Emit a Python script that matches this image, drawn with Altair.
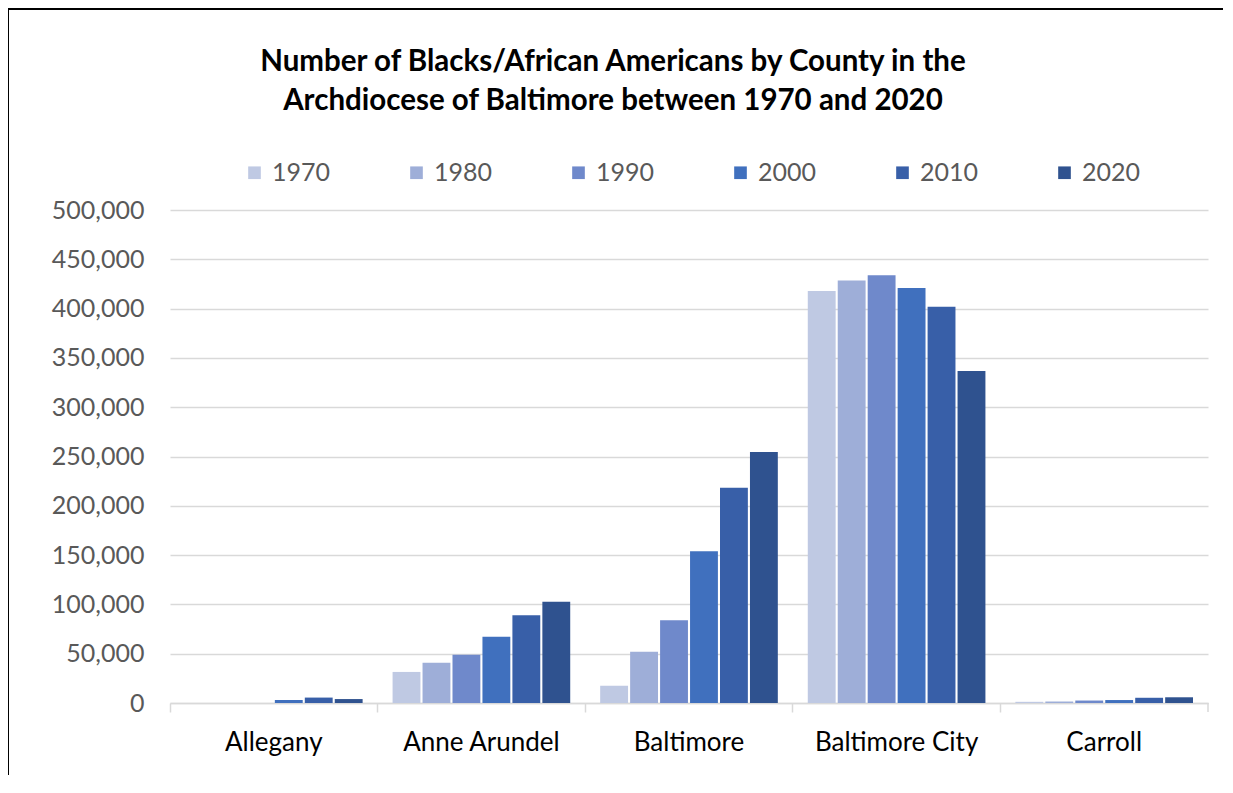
import altair as alt
import pandas as pd

counties = ["Allegany", "Anne Arundel", "Baltimore", "Baltimore City", "Carroll"]
years = ["1970", "1980", "1990", "2000", "2010", "2020"]
v1970 = [0, 31500, 17500, 417800, 1200]
v1980 = [0, 40800, 52000, 428600, 1500]
v1990 = [0, 49000, 83800, 433700, 2500]
v2000 = [3000, 67200, 153800, 420900, 3000]
v2010 = [5500, 89000, 218400, 401900, 5300]
v2020 = [4000, 102700, 254600, 336700, 5800]
colors = ["#BFC9E3", "#9EAED8", "#6F89CB", "#4070BE", "#385FA8", "#2F528F"]
title_lines = ["Number of Blacks/African Americans by County in the",
               "Archdiocese of Baltimore between 1970 and 2020"]

series = [v1970, v1980, v1990, v2000, v2010, v2020]
rows = []
for y, vals in zip(years, series):
    for c, v in zip(counties, vals):
        rows.append({"County": c, "Year": y, "Value": v})
df = pd.DataFrame(rows)

FONT = "Lato"
W, H = 1038, 493

bars = alt.Chart(df).mark_bar().encode(
    x=alt.X("County:N", sort=counties,
            scale=alt.Scale(paddingInner=0, paddingOuter=0),
            axis=alt.Axis(title=None, labelAngle=0, labelFontSize=26, labelColor="#000000",
                          labelFont=FONT, labelPadding=17, tickColor="#D9D9D9", tickSize=9,
                          tickWidth=1.5, bandPosition=0, domainColor="#D9D9D9", domainWidth=1.5,
                          grid=False)),
    xOffset=alt.XOffset("Year:N", sort=years,
                        scale=alt.Scale(paddingInner=0.07, paddingOuter=0.5)),
    y=alt.Y("Value:Q", scale=alt.Scale(domain=[0, 500000], nice=False),
            axis=alt.Axis(title=None, values=list(range(0, 500001, 50000)), format=",.0f",
                          labelFontSize=25, labelColor="#595959", labelFont=FONT,
                          labelPadding=26, ticks=False, domain=False,
                          gridColor="#D9D9D9", gridWidth=1.5)),
    color=alt.Color("Year:N", sort=years,
                    scale=alt.Scale(domain=years, range=colors),
                    legend=alt.Legend(title=None, orient="none", direction="horizontal",
                                      legendX=72, legendY=-50, symbolType="square",
                                      symbolSize=160, symbolStrokeWidth=0, labelFontSize=25,
                                      labelFont=FONT, labelColor="#595959", labelOffset=5,
                                      columnPadding=73, columns=6)),
)

tdf = pd.DataFrame({"line": title_lines, "i": [0, 1]})
title = alt.Chart(tdf).mark_text(
    font=FONT, fontSize=29.5, fontWeight="bold", color="#000000",
    align="center", baseline="middle"
).encode(
    text="line:N",
    x=alt.value(443),
    y=alt.Y("i:Q", scale=alt.Scale(domain=[0, 1], range=[-148, -109]), axis=None),
)

end_tick = alt.Chart(pd.DataFrame({"a": [0]})).mark_rule(
    color="#D9D9D9", strokeWidth=1.5
).encode(x=alt.value(W), y=alt.value(H), y2=alt.value(H + 9))

frame = alt.Chart(pd.DataFrame({"a": [0]})).mark_rect(
    fill=None, stroke="#000000", strokeWidth=2
).encode(x=alt.value(-162), x2=alt.value(W + 200), y=alt.value(-201), y2=alt.value(H + 300))

chart = alt.layer(bars, title, end_tick, frame).resolve_scale(y="independent").properties(
    width=W, height=H,
    background="white",
    autosize=alt.AutoSizeParams(type="none"),
    padding={"left": 162, "top": 202, "right": 15, "bottom": 72},
).configure_view(stroke=None, strokeWidth=0)

chart.save("out.html", embed_options={"renderer": "svg", "actions": False})
